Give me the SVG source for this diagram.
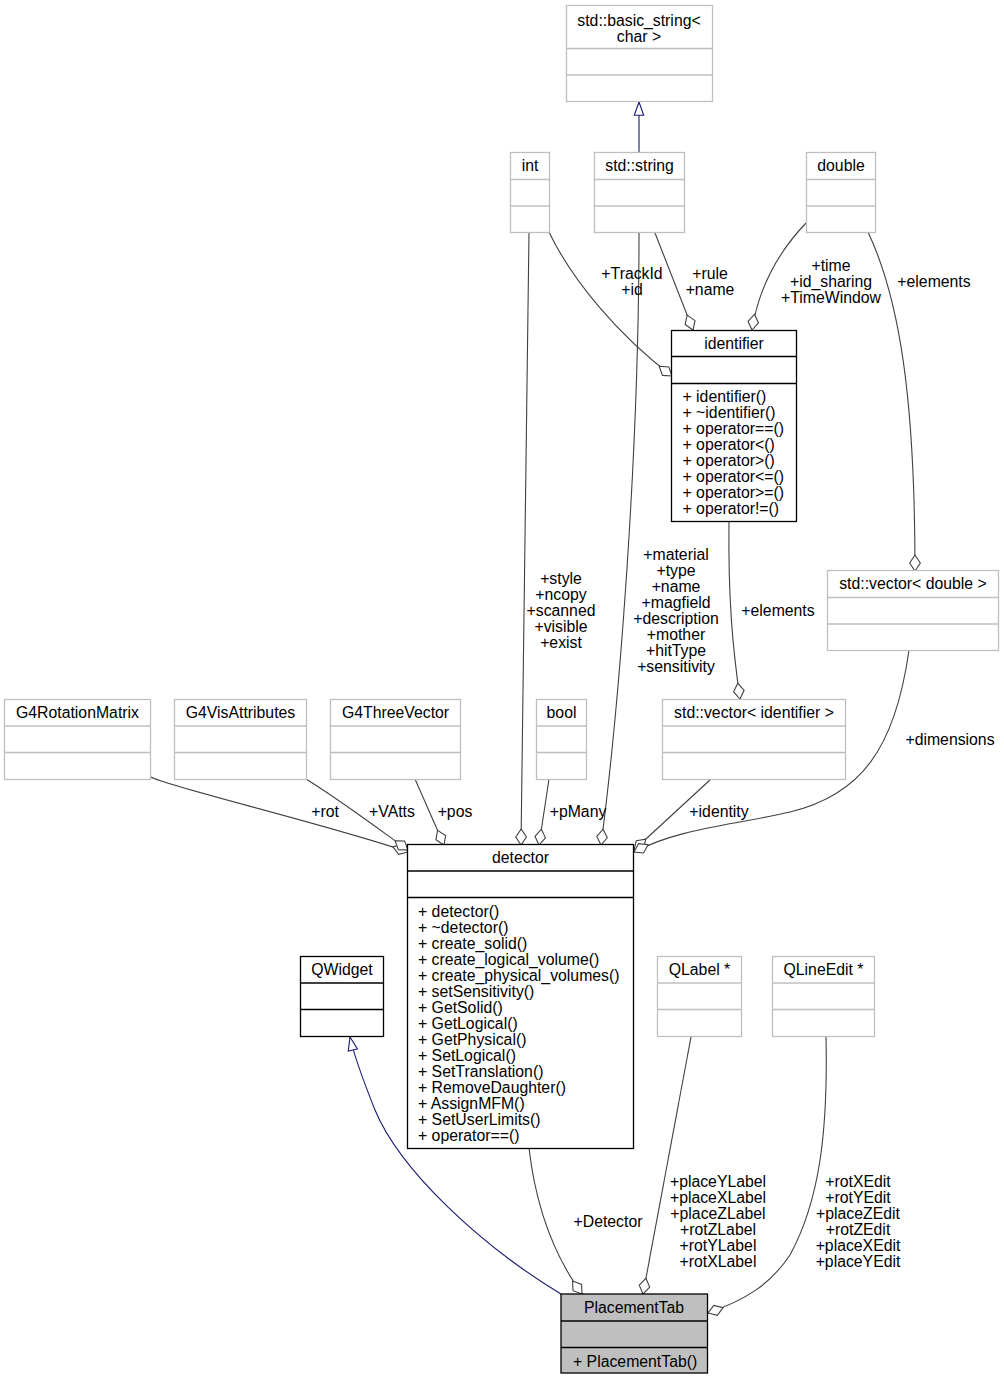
<svg xmlns="http://www.w3.org/2000/svg" width="1004" height="1380" viewBox="0 0 1004 1380">
<style>
text{font-family:"Liberation Sans",Arial,Helvetica,sans-serif;font-size:15.8px;fill:#000}
.c{text-anchor:middle}
.g{fill:#fff;stroke:#bfbfbf;stroke-width:1.3}
.b{fill:#fff;stroke:#000;stroke-width:1.3}
.p{fill:#bfbfbf;stroke:#000;stroke-width:1.3}
.dg{stroke:#bfbfbf;stroke-width:1.3}
.db{stroke:#000;stroke-width:1.3}
.e{fill:none;stroke:#404040;stroke-width:1.1;marker-end:url(#dia)}
.i{fill:none;stroke:#191970;stroke-width:1.1;marker-end:url(#tri)}
</style>
<defs>
<marker id="dia" markerUnits="userSpaceOnUse" markerWidth="20" markerHeight="14" viewBox="-2 -7 20 14" refX="16" refY="0" orient="auto" overflow="visible">
<path d="M0,0 L8,-5.3 L16,0 L8,5.3 Z" fill="#fff" stroke="#404040" stroke-width="1.1"/>
</marker>
<marker id="tri" markerUnits="userSpaceOnUse" markerWidth="16" markerHeight="12" viewBox="-1 -6 16 12" refX="13.3" refY="0" orient="auto" overflow="visible">
<path d="M0,-4.7 L13.3,0 L0,4.7 Z" fill="#fff" stroke="#191970" stroke-width="1.1"/>
</marker>
</defs>
<rect width="1004" height="1380" fill="#fff"/>

<g id="connectors">
<path class="i" d="M639,153 L639,102"/>
<path class="e" d="M549,232 C572,280 618,335 672,376"/>
<path class="e" d="M655,233 L693,330"/>
<path class="e" d="M806,223 C785,245 760,280 752,330"/>
<path class="e" d="M868,232 C900,300 915,400 915,571"/>
<path class="e" d="M729,522 C728,600 733,650 740,699"/>
<path class="e" d="M529,232 L521,845"/>
<path class="e" d="M639,233 C639,450 620,700 601,845"/>
<path class="e" d="M151,777 C165,786 330,825 408,852"/>
<path class="e" d="M306,779 C340,800 380,830 408,850"/>
<path class="e" d="M415,779 L444,845"/>
<path class="e" d="M549,779 L539,845"/>
<path class="e" d="M711,779 L634,850"/>
<path class="e" d="M909,650 C895,750 860,795 790,812 C730,826 680,828 634,852"/>
<path class="i" d="M561,1294 C480,1245 400,1170 375,1110 C365,1085 355,1060 350,1037"/>
<path class="e" d="M529,1148 C535,1200 550,1250 582,1294"/>
<path class="e" d="M691,1037 L643,1294"/>
<path class="e" d="M826,1037 C828,1130 820,1200 790,1255 C770,1285 745,1300 708,1313"/>
</g>

<g id="edge-labels">
<text class="c" x="632" y="279">+TrackId</text>
<text class="c" x="632" y="295">+id</text>
<text class="c" x="710" y="279">+rule</text>
<text class="c" x="710" y="295">+name</text>
<text class="c" x="831" y="271">+time</text>
<text class="c" x="831" y="287">+id_sharing</text>
<text class="c" x="831" y="303">+TimeWindow</text>
<text class="c" x="934" y="287">+elements</text>
<text class="c" x="778" y="616">+elements</text>
<text class="c" x="561" y="584">+style</text>
<text class="c" x="561" y="600">+ncopy</text>
<text class="c" x="561" y="616">+scanned</text>
<text class="c" x="561" y="632">+visible</text>
<text class="c" x="561" y="648">+exist</text>
<text class="c" x="676" y="560">+material</text>
<text class="c" x="676" y="576">+type</text>
<text class="c" x="676" y="592">+name</text>
<text class="c" x="676" y="608">+magfield</text>
<text class="c" x="676" y="624">+description</text>
<text class="c" x="676" y="640">+mother</text>
<text class="c" x="676" y="656">+hitType</text>
<text class="c" x="676" y="672">+sensitivity</text>
<text class="c" x="325" y="817">+rot</text>
<text class="c" x="392" y="817">+VAtts</text>
<text class="c" x="455" y="817">+pos</text>
<text class="c" x="578" y="817">+pMany</text>
<text class="c" x="719" y="817">+identity</text>
<text class="c" x="950" y="745">+dimensions</text>
<text class="c" x="608" y="1227">+Detector</text>
<text class="c" x="718" y="1187">+placeYLabel</text>
<text class="c" x="718" y="1203">+placeXLabel</text>
<text class="c" x="718" y="1219">+placeZLabel</text>
<text class="c" x="718" y="1235">+rotZLabel</text>
<text class="c" x="718" y="1251">+rotYLabel</text>
<text class="c" x="718" y="1267">+rotXLabel</text>
<text class="c" x="858" y="1187">+rotXEdit</text>
<text class="c" x="858" y="1203">+rotYEdit</text>
<text class="c" x="858" y="1219">+placeZEdit</text>
<text class="c" x="858" y="1235">+rotZEdit</text>
<text class="c" x="858" y="1251">+placeXEdit</text>
<text class="c" x="858" y="1267">+placeYEdit</text>
</g>

<g id="node-basic_string">
<rect class="g" x="566.5" y="5.5" width="146" height="96"/>
<line class="dg" x1="566.5" y1="48.5" x2="712.5" y2="48.5"/>
<line class="dg" x1="566.5" y1="75" x2="712.5" y2="75"/>
<text class="c" x="639" y="25.5">std::basic_string&lt;</text>
<text class="c" x="639" y="41.5">char &gt;</text>
</g>

<g id="node-int">
<rect class="g" x="510.5" y="152.5" width="39" height="80"/>
<line class="dg" x1="510.5" y1="179.5" x2="549.5" y2="179.5"/>
<line class="dg" x1="510.5" y1="206" x2="549.5" y2="206"/>
<text class="c" x="530" y="171">int</text>
</g>

<g id="node-std_string">
<rect class="g" x="594.5" y="152.5" width="90" height="80"/>
<line class="dg" x1="594.5" y1="179.5" x2="684.5" y2="179.5"/>
<line class="dg" x1="594.5" y1="206" x2="684.5" y2="206"/>
<text class="c" x="639.5" y="171">std::string</text>
</g>

<g id="node-double">
<rect class="g" x="806.5" y="152.5" width="69" height="80"/>
<line class="dg" x1="806.5" y1="179.5" x2="875.5" y2="179.5"/>
<line class="dg" x1="806.5" y1="206" x2="875.5" y2="206"/>
<text class="c" x="841" y="171">double</text>
</g>

<g id="node-identifier">
<rect class="b" x="671.5" y="330.5" width="125" height="191"/>
<line class="db" x1="671.5" y1="356.5" x2="796.5" y2="356.5"/>
<line class="db" x1="671.5" y1="383.5" x2="796.5" y2="383.5"/>
<text class="c" x="734" y="349">identifier</text>
<text x="682.5" y="402">+ identifier()</text>
<text x="682.5" y="418">+ ~identifier()</text>
<text x="682.5" y="434">+ operator==()</text>
<text x="682.5" y="450">+ operator&lt;()</text>
<text x="682.5" y="466">+ operator&gt;()</text>
<text x="682.5" y="482">+ operator&lt;=()</text>
<text x="682.5" y="498">+ operator&gt;=()</text>
<text x="682.5" y="514">+ operator!=()</text>
</g>

<g id="node-vector_double">
<rect class="g" x="827.5" y="570.5" width="171" height="80"/>
<line class="dg" x1="827.5" y1="597.5" x2="998.5" y2="597.5"/>
<line class="dg" x1="827.5" y1="624" x2="998.5" y2="624"/>
<text class="c" x="913" y="589">std::vector&lt; double &gt;</text>
</g>

<g id="node-G4RotationMatrix">
<rect class="g" x="4.5" y="699.5" width="146" height="80"/>
<line class="dg" x1="4.5" y1="726" x2="150.5" y2="726"/>
<line class="dg" x1="4.5" y1="752.5" x2="150.5" y2="752.5"/>
<text class="c" x="77.5" y="718">G4RotationMatrix</text>
</g>

<g id="node-G4VisAttributes">
<rect class="g" x="174.5" y="699.5" width="132" height="80"/>
<line class="dg" x1="174.5" y1="726" x2="306.5" y2="726"/>
<line class="dg" x1="174.5" y1="752.5" x2="306.5" y2="752.5"/>
<text class="c" x="240.5" y="718">G4VisAttributes</text>
</g>

<g id="node-G4ThreeVector">
<rect class="g" x="330.5" y="699.5" width="130" height="80"/>
<line class="dg" x1="330.5" y1="726" x2="460.5" y2="726"/>
<line class="dg" x1="330.5" y1="752.5" x2="460.5" y2="752.5"/>
<text class="c" x="395.5" y="718">G4ThreeVector</text>
</g>

<g id="node-bool">
<rect class="g" x="536.5" y="699.5" width="50" height="80"/>
<line class="dg" x1="536.5" y1="726" x2="586.5" y2="726"/>
<line class="dg" x1="536.5" y1="752.5" x2="586.5" y2="752.5"/>
<text class="c" x="561.5" y="718">bool</text>
</g>

<g id="node-vector_identifier">
<rect class="g" x="662.5" y="699.5" width="183" height="80"/>
<line class="dg" x1="662.5" y1="726" x2="845.5" y2="726"/>
<line class="dg" x1="662.5" y1="752.5" x2="845.5" y2="752.5"/>
<text class="c" x="754" y="718">std::vector&lt; identifier &gt;</text>
</g>

<g id="node-detector">
<rect class="b" x="407.5" y="844.5" width="226" height="304"/>
<line class="db" x1="407.5" y1="871" x2="633.5" y2="871"/>
<line class="db" x1="407.5" y1="897.5" x2="633.5" y2="897.5"/>
<text class="c" x="520.5" y="863">detector</text>
<text x="418" y="917">+ detector()</text>
<text x="418" y="933">+ ~detector()</text>
<text x="418" y="949">+ create_solid()</text>
<text x="418" y="965">+ create_logical_volume()</text>
<text x="418" y="981">+ create_physical_volumes()</text>
<text x="418" y="997">+ setSensitivity()</text>
<text x="418" y="1013">+ GetSolid()</text>
<text x="418" y="1029">+ GetLogical()</text>
<text x="418" y="1045">+ GetPhysical()</text>
<text x="418" y="1061">+ SetLogical()</text>
<text x="418" y="1077">+ SetTranslation()</text>
<text x="418" y="1093">+ RemoveDaughter()</text>
<text x="418" y="1109">+ AssignMFM()</text>
<text x="418" y="1125">+ SetUserLimits()</text>
<text x="418" y="1141">+ operator==()</text>
</g>

<g id="node-QWidget">
<rect class="b" x="300.5" y="956.5" width="83" height="80"/>
<line class="db" x1="300.5" y1="983" x2="383.5" y2="983"/>
<line class="db" x1="300.5" y1="1009.5" x2="383.5" y2="1009.5"/>
<text class="c" x="342" y="975">QWidget</text>
</g>

<g id="node-QLabel">
<rect class="g" x="657.5" y="956.5" width="84" height="80"/>
<line class="dg" x1="657.5" y1="983" x2="741.5" y2="983"/>
<line class="dg" x1="657.5" y1="1009.5" x2="741.5" y2="1009.5"/>
<text class="c" x="699.5" y="975">QLabel *</text>
</g>

<g id="node-QLineEdit">
<rect class="g" x="772.5" y="956.5" width="102" height="80"/>
<line class="dg" x1="772.5" y1="983" x2="874.5" y2="983"/>
<line class="dg" x1="772.5" y1="1009.5" x2="874.5" y2="1009.5"/>
<text class="c" x="823.5" y="975">QLineEdit *</text>
</g>

<g id="node-PlacementTab">
<rect class="p" x="561" y="1294" width="146.5" height="79"/>
<line class="db" x1="561" y1="1321" x2="707.5" y2="1321"/>
<line class="db" x1="561" y1="1347.5" x2="707.5" y2="1347.5"/>
<text class="c" x="634" y="1313">PlacementTab</text>
<text x="573" y="1366.5">+ PlacementTab()</text>
</g>
</svg>
